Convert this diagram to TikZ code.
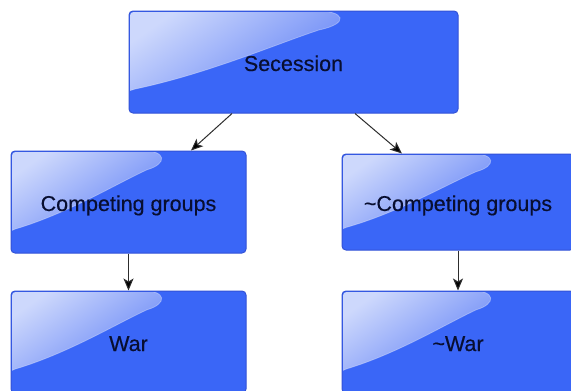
\documentclass[tikz,border=0pt]{standalone}
\usepackage{fontspec}
\setmainfont{Liberation Sans}
\newfontfamily\labelfont{Liberation Sans}[FakeBold=0.35]
\usetikzlibrary{arrows.meta,calc}

\definecolor{boxblue}{RGB}{58,102,247}
\definecolor{boxedge}{RGB}{50,82,215}
\definecolor{glosslight}{RGB}{205,216,252}
\definecolor{glossdark}{RGB}{98,130,246}
\definecolor{labelink}{RGB}{8,14,48}
\definecolor{wire}{RGB}{45,45,45}

\tikzset{
  card/.style={rectangle, rounded corners=4pt, fill=boxblue, draw=boxedge,
    line width=1pt, inner sep=0pt},
  cardtext/.style={text=labelink, inner sep=0pt,
    font=\labelfont\fontsize{21.5}{25}\selectfont, text height=18pt, text depth=0pt},
  link/.style={draw=wire, line width=1pt,
    -{Stealth[length=12pt,width=10pt,inset=3pt,fill=black]}},
}

% glossy highlight in the upper-left part of a card: node, width, height
\newcommand\glossy[3]{%
  \begin{scope}
    \clip[rounded corners=3.5pt] ($(#1.north west)+(1.5,1.5)$) rectangle ($(#1.south east)+(-1.5,-1.5)$);
    \shade[top color=glosslight, bottom color=glossdark, shading angle=35,
      draw=white, draw opacity=0.3, line width=0.8pt,
      shift={(#1.north west)}, x=#2pt, y=-#3pt]
      (0,0) -- (0.56,0)
      .. controls (0.665,0) and (0.67,0.13) .. (0.58,0.19)
      .. controls (0.44,0.34) and (0.24,0.62) .. (0.02,0.77)
      -- (0,0.79) -- cycle;
  \end{scope}}

\begin{document}
\begin{tikzpicture}[x=1pt, y=-1pt]
  \useasboundingbox (0,0) rectangle (571,391);
  \fill[white] (0,0) rectangle (571,391);
  \clip (0,0) rectangle (571,391);

  \node[card, minimum width=329pt, minimum height=102pt] (sec) at (293.5,62) {};
  \node[card, minimum width=235pt, minimum height=102pt] (cg) at (128.5,202) {};
  \node[card, minimum width=232pt, minimum height=96pt] (ncg) at (458,202) {};
  \node[card, minimum width=235pt, minimum height=102pt] (war) at (128.5,342) {};
  \node[card, minimum width=232pt, minimum height=102pt] (nwar) at (458,342) {};

  \glossy{sec}{329}{102}
  \glossy{cg}{235}{102}
  \glossy{ncg}{232}{96}
  \glossy{war}{235}{102}
  \glossy{nwar}{232}{102}

  % labels set above the highlights
  \node[cardtext] (secl) at (sec.center) {Secession};
  \node[cardtext] (cgl) at (cg.center) {Competing groups};
  \node[cardtext] (ncgl) at (ncg.center) {\textasciitilde Competing groups};
  \node[cardtext] (warl) at (war.center) {War};
  \node[cardtext] (nwarl) at (nwar.center) {\textasciitilde War};

  \draw[link] ($(sec.south)+(-61.5,0)$) -- ($(cg.north)+(62.5,0)$);
  \draw[link] ($(sec.south)+(61.5,0)$) -- ($(ncg.north)+(-56,0)$);
  \draw[link] (cg.south) -- (war.north);
  \draw[link] (ncg.south) -- (nwar.north);
\end{tikzpicture}
\end{document}
